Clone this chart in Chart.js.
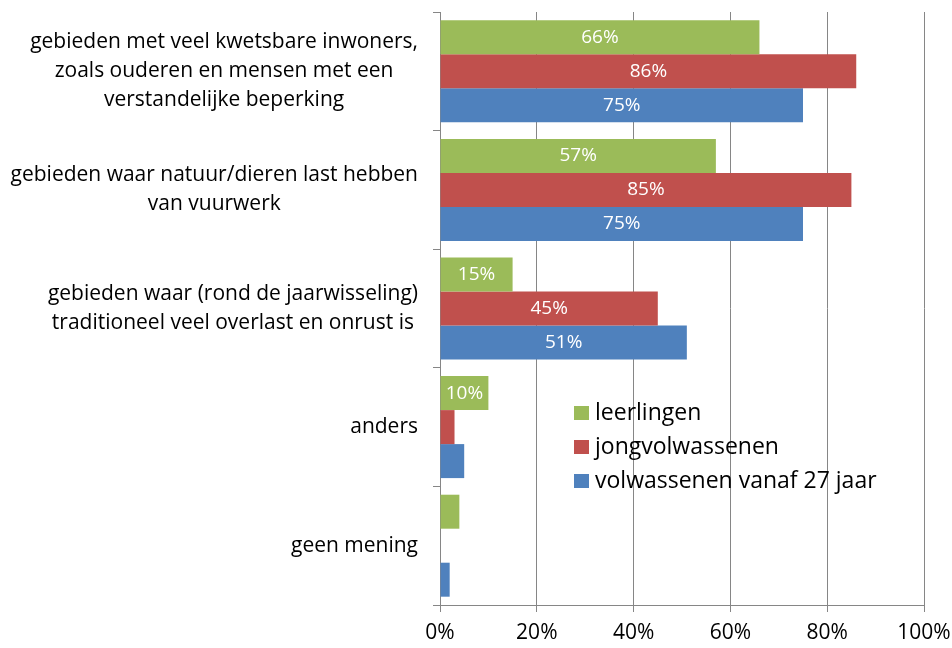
<!DOCTYPE html>
<html>
<head>
<meta charset="utf-8">
<script src="https://cdn.jsdelivr.net/npm/chart.js@4.4.0/dist/chart.umd.min.js"></script>
<style>
  body { margin: 0; background: #fff; }
  #wrap { width: 952px; height: 648px; }
</style>
</head>
<body>
<div id="wrap"><canvas id="myChart" width="952" height="648"></canvas></div>
<script>
const categories = [
  ['gebieden met veel kwetsbare inwoners,', 'zoals ouderen en mensen met een', 'verstandelijke beperking'],
  ['gebieden waar natuur/dieren last hebben', 'van vuurwerk'],
  ['gebieden waar (rond de jaarwisseling)', 'traditioneel veel overlast en onrust is'],
  ['anders'],
  ['geen mening']
]
const seriesNames = ['leerlingen', 'jongvolwassenen', 'volwassenen vanaf 27 jaar']
const leerlingen = [66, 57, 15, 10, 4]
const jongvolwassenen = [86, 85, 45, 3, 0]
const volwassenen = [75, 75, 51, 5, 2]
const seriesColors = ['#9BBB59', '#C0504D', '#4F81BD']
const xTicks = [0, 20, 40, 60, 80, 100]

const FONT = '"Open Sans"'
const gridColor = '#868686'

// categorie labels: regels onderling gecentreerd, blok rechts uitgelijnd
const yLabelsPlugin = {
  id: 'yLabels',
  afterDraw(chart) {
    const ctx = chart.ctx
    const y = chart.scales.y
    ctx.save()
    ctx.font = '21px ' + FONT
    ctx.fillStyle = '#000'
    ctx.textAlign = 'center'
    ctx.textBaseline = 'middle'
    const lh = 29
    categories.forEach((lines, i) => {
      const maxW = Math.max(...lines.map(l => ctx.measureText(l).width))
      const cx = 418 - maxW / 2
      const cy = y.getPixelForValue(i)
      lines.forEach((l, j) => {
        ctx.fillText(l, cx, cy + (j - (lines.length - 1) / 2) * lh)
      })
    })
    ctx.restore()
  }
}

// waarden in de balken
const barLabelsPlugin = {
  id: 'barLabels',
  afterDatasetsDraw(chart) {
    const ctx = chart.ctx
    ctx.save()
    ctx.font = '19px ' + FONT
    ctx.fillStyle = '#fff'
    ctx.textAlign = 'center'
    ctx.textBaseline = 'middle'
    chart.data.datasets.forEach((ds, di) => {
      const meta = chart.getDatasetMeta(di)
      meta.data.forEach((bar, i) => {
        const v = ds.data[i]
        if (v < 10) return
        ctx.fillText(v + '%', (bar.x + bar.base) / 2, bar.y)
      })
    })
    ctx.restore()
  }
}

// legenda binnen het plotgebied
const legendPlugin = {
  id: 'innerLegend',
  afterDraw(chart) {
    const ctx = chart.ctx
    ctx.save()
    ctx.font = '23px ' + FONT
    ctx.textBaseline = 'middle'
    ctx.textAlign = 'left'
    const rows = [413, 447, 481]
    seriesNames.forEach((name, i) => {
      ctx.fillStyle = seriesColors[i]
      ctx.fillRect(574, rows[i] - 7, 15, 14)
      ctx.fillStyle = '#000'
      ctx.fillText(name, 595, rows[i])
    })
    ctx.restore()
  }
}

const ctx = document.getElementById('myChart').getContext('2d')
const myChart = new Chart(ctx, {
  type: 'bar',
  data: {
    labels: categories,
    datasets: [
      { label: seriesNames[0], data: leerlingen, backgroundColor: seriesColors[0] },
      { label: seriesNames[1], data: jongvolwassenen, backgroundColor: seriesColors[1] },
      { label: seriesNames[2], data: volwassenen, backgroundColor: seriesColors[2] },
    ]
  },
  options: {
    indexAxis: 'y',
    responsive: false,
    animation: false,
    categoryPercentage: 0.86,
    barPercentage: 1.0,
    layout: { padding: { top: 12, right: 28, left: 0, bottom: 0 } },
    scales: {
      x: {
        min: 0,
        max: 100,
        afterBuildTicks: (scale) => { scale.ticks = xTicks.map(v => ({ value: v })) },
        afterFit: (scale) => {
          scale.height = 43
          scale.paddingLeft = 0
          scale.paddingRight = 0
        },
        grid: { color: gridColor, lineWidth: 1, tickLength: 7 },
        border: { color: gridColor },
        ticks: {
          color: '#000',
          font: { family: 'Open Sans', size: 21 },
          padding: 8,
          callback: v => v + '%'
        }
      },
      y: {
        afterFit: (scale) => { scale.width = 440 },
        grid: { drawOnChartArea: false, color: gridColor, tickLength: 7 },
        border: { color: gridColor },
        ticks: { display: false }
      }
    },
    plugins: {
      legend: { display: false },
      tooltip: { enabled: false }
    }
  },
  plugins: [yLabelsPlugin, barLabelsPlugin, legendPlugin]
})
</script>
</body>
</html>
